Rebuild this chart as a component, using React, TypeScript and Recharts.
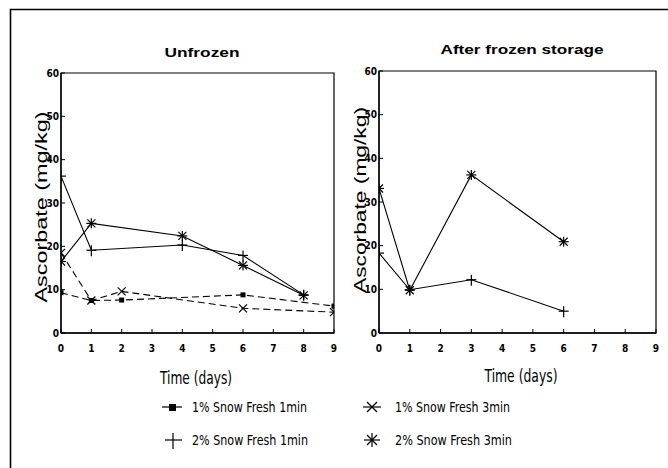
import React from 'react';
import { LineChart, Line, XAxis, YAxis, ReferenceArea } from 'recharts';

// ---- data ----
const dayTicks = [0, 1, 2, 3, 4, 5, 6, 7, 8, 9];
const ascorbateTicks = [0, 10, 20, 30, 40, 50, 60];

const seriesNames = [
  '1% Snow Fresh 1min',
  '2% Snow Fresh 1min',
  '1% Snow Fresh 3min',
  '2% Snow Fresh 3min',
];

// Unfrozen panel
const unfrozen1pct1minDays = [0, 1, 2, 6, 9];
const unfrozen1pct1minVals = [9.3, 7.5, 7.6, 8.8, 6.2];
const unfrozen1pct3minDays = [0, 1, 2, 6, 9];
const unfrozen1pct3minVals = [18.5, 7.5, 9.6, 5.7, 4.8];
const unfrozen2pct1minDays = [0, 1, 4, 6, 8];
const unfrozen2pct1minVals = [36.2, 19.1, 20.3, 17.9, 8.8];
const unfrozen2pct3minDays = [0, 1, 4, 6, 8];
const unfrozen2pct3minVals = [16.5, 25.3, 22.4, 15.6, 8.7];

// After frozen storage panel
const frozen2pct1minDays = [0, 1, 3, 6];
const frozen2pct1minVals = [18.3, 9.9, 12.2, 5.0];
const frozen2pct3minDays = [0, 1, 3, 6];
const frozen2pct3minVals = [33.1, 9.8, 36.2, 20.9];

const toRows = (days: number[], vals: number[]) => days.map((d, i) => ({ day: d, v: vals[i] }));

const FONT_NARROW = '"Liberation Sans Narrow", "DejaVu Sans Condensed", "Liberation Sans", Arial, sans-serif';
const FONT_SANS = '"Liberation Sans", Arial, sans-serif';

type Kind = 'square' | 'plus' | 'x' | 'star';

function Marker({ kind, cx, cy }: { kind: Kind; cx: number; cy: number }) {
  if (cx == null || cy == null) return null;
  const s = { stroke: '#000', strokeWidth: 1.2, fill: 'none' };
  if (kind === 'square') return <rect x={cx - 2.5} y={cy - 2.5} width={5} height={5} fill="#000" />;
  if (kind === 'plus')
    return (
      <g {...s}>
        <line x1={cx - 5} y1={cy} x2={cx + 5} y2={cy} />
        <line x1={cx} y1={cy - 5} x2={cx} y2={cy + 6} />
      </g>
    );
  if (kind === 'x')
    return (
      <g {...s}>
        <line x1={cx - 4} y1={cy - 4} x2={cx + 4} y2={cy + 4} />
        <line x1={cx - 4} y1={cy + 4} x2={cx + 4} y2={cy - 4} />
      </g>
    );
  return (
    <g {...s}>
      <line x1={cx - 4} y1={cy - 4} x2={cx + 4} y2={cy + 4} />
      <line x1={cx - 4} y1={cy + 4} x2={cx + 4} y2={cy - 4} />
      <line x1={cx} y1={cy - 5} x2={cx} y2={cy + 5} />
      <line x1={cx - 5} y1={cy} x2={cx + 5} y2={cy} />
    </g>
  );
}

const dotOf = (kind: Kind) => (p: any) => <Marker key={`${kind}-${p.index}`} kind={kind} cx={p.cx} cy={p.cy} />;

const xTick = { fontSize: 10, fontWeight: 'bold', fill: '#000', fontFamily: FONT_NARROW };
const yTick = { fontSize: 10, fontWeight: 'bold', fill: '#000', fontFamily: FONT_NARROW };

export default function App() {
  return (
    <div style={{ position: 'absolute', left: 0, top: 0, width: 668, height: 468, background: '#fff', overflow: 'hidden' }}>
      <div style={{ position: 'absolute', left: 0, top: 0 }}>
        <LineChart width={340} height={360} margin={{ top: 73, right: 6, bottom: 7, left: 31 }}>
          <XAxis
            dataKey="day"
            type="number"
            domain={[0, 9]}
            ticks={dayTicks}
            interval={0}
            allowDataOverflow
            height={20}
            tickSize={-4}
            tickMargin={16}
            tick={xTick}
            axisLine={{ stroke: '#000', strokeWidth: 1.3 }}
            tickLine={{ stroke: '#000' }}
          />
          <YAxis
            type="number"
            domain={[0, 60]}
            ticks={ascorbateTicks}
            interval={0}
            allowDataOverflow
            width={30}
            tickSize={-4}
            tickMargin={6}
            tick={yTick}
            axisLine={{ stroke: '#000', strokeWidth: 1.3 }}
            tickLine={{ stroke: '#000' }}
          />
          <ReferenceArea x1={0} x2={9} y1={0} y2={60} fill="none" stroke="#000" strokeWidth={1.2} fillOpacity={0} />
          <Line data={toRows(unfrozen1pct1minDays, unfrozen1pct1minVals)} dataKey="v" name={seriesNames[0]} stroke="#000" strokeWidth={1.1} strokeDasharray="7 4" dot={dotOf('square')} isAnimationActive={false} />
          <Line data={toRows(unfrozen1pct3minDays, unfrozen1pct3minVals)} dataKey="v" name={seriesNames[2]} stroke="#000" strokeWidth={1.1} strokeDasharray="7 4" dot={dotOf('x')} isAnimationActive={false} />
          <Line data={toRows(unfrozen2pct1minDays, unfrozen2pct1minVals)} dataKey="v" name={seriesNames[1]} stroke="#000" strokeWidth={1.1} dot={dotOf('plus')} isAnimationActive={false} />
          <Line data={toRows(unfrozen2pct3minDays, unfrozen2pct3minVals)} dataKey="v" name={seriesNames[3]} stroke="#000" strokeWidth={1.1} dot={dotOf('star')} isAnimationActive={false} />
        </LineChart>
      </div>
      <div style={{ position: 'absolute', left: 340, top: 0 }}>
        <LineChart width={328} height={360} margin={{ top: 71, right: 12, bottom: 7, left: 9 }}>
          <XAxis
            dataKey="day"
            type="number"
            domain={[0, 9]}
            ticks={dayTicks}
            interval={0}
            allowDataOverflow
            height={20}
            tickSize={-4}
            tickMargin={16}
            tick={xTick}
            axisLine={{ stroke: '#000', strokeWidth: 1.3 }}
            tickLine={{ stroke: '#000' }}
          />
          <YAxis
            type="number"
            domain={[0, 60]}
            ticks={ascorbateTicks}
            interval={0}
            allowDataOverflow
            width={30}
            tickSize={-4}
            tickMargin={6}
            tick={yTick}
            axisLine={{ stroke: '#000', strokeWidth: 1.3 }}
            tickLine={{ stroke: '#000' }}
          />
          <ReferenceArea x1={0} x2={9} y1={0} y2={60} fill="none" stroke="#000" strokeWidth={1.2} fillOpacity={0} />
          <Line data={toRows(frozen2pct1minDays, frozen2pct1minVals)} dataKey="v" name={seriesNames[1]} stroke="#000" strokeWidth={1.1} dot={dotOf('plus')} isAnimationActive={false} />
          <Line data={toRows(frozen2pct3minDays, frozen2pct3minVals)} dataKey="v" name={seriesNames[3]} stroke="#000" strokeWidth={1.1} dot={dotOf('star')} isAnimationActive={false} />
        </LineChart>
      </div>
      <svg width={668} height={468} style={{ position: 'absolute', left: 0, top: 0, pointerEvents: 'none' }}>
        <path d="M10.5,470 V9.5 H670" fill="none" stroke="#000" strokeWidth={1.6} />
        <text x={202} y={57} textAnchor="middle" fontFamily={FONT_SANS} fontWeight="bold" fontSize={13.5} textLength={75} lengthAdjust="spacingAndGlyphs">Unfrozen</text>
        <text x={522} y={54} textAnchor="middle" fontFamily={FONT_SANS} fontWeight="bold" fontSize={13.5} textLength={163} lengthAdjust="spacingAndGlyphs">After frozen storage</text>
        <text transform="translate(47,207) rotate(-90)" textAnchor="middle" fontFamily={FONT_SANS} fontSize={17} textLength={191} lengthAdjust="spacingAndGlyphs">Ascorbate (mg/kg)</text>
        <text transform="translate(366,200) rotate(-90)" textAnchor="middle" fontFamily={FONT_SANS} fontSize={17} textLength={186} lengthAdjust="spacingAndGlyphs">Ascorbate (mg/kg)</text>
        <text x={196} y={384} textAnchor="middle" fontFamily={FONT_NARROW} fontSize={17} textLength={72} lengthAdjust="spacingAndGlyphs">Time (days)</text>
        <text x={521} y={382} textAnchor="middle" fontFamily={FONT_NARROW} fontSize={17} textLength={73} lengthAdjust="spacingAndGlyphs">Time (days)</text>
        {/* legend */}
        <g stroke="#000" strokeWidth={1.2} fill="none">
          <line x1={162} y1={407} x2={182} y2={407} />
          <line x1={165} y1={440} x2={182} y2={440} />
          <line x1={173} y1={433} x2={173} y2={449} />
          <line x1={363} y1={407} x2={381} y2={407} />
          <line x1={367} y1={402} x2={377} y2={412} />
          <line x1={367} y1={412} x2={377} y2={402} />
          <line x1={364} y1={440} x2={380} y2={440} />
          <line x1={367} y1={435} x2={377} y2={445} />
          <line x1={367} y1={445} x2={377} y2={435} />
          <line x1={372} y1={433} x2={372} y2={447} />
        </g>
        <rect x={169} y={404} width={7} height={7} fill="#000" />
        <text x={192} y={412} fontFamily={FONT_NARROW} fontSize={14} textLength={115} lengthAdjust="spacingAndGlyphs">{seriesNames[0]}</text>
        <text x={192} y={445} fontFamily={FONT_NARROW} fontSize={14} textLength={116} lengthAdjust="spacingAndGlyphs">{seriesNames[1]}</text>
        <text x={395} y={412} fontFamily={FONT_NARROW} fontSize={14} textLength={115} lengthAdjust="spacingAndGlyphs">{seriesNames[2]}</text>
        <text x={395} y={445} fontFamily={FONT_NARROW} fontSize={14} textLength={117} lengthAdjust="spacingAndGlyphs">{seriesNames[3]}</text>
      </svg>
    </div>
  );
}
